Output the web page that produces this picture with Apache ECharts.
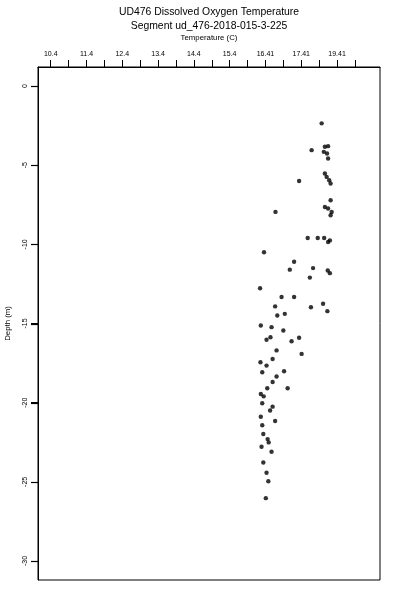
<!DOCTYPE html>
<html>
<head>
<meta charset="utf-8">
<script src="https://cdn.jsdelivr.net/npm/echarts@6/dist/echarts.min.js"></script>
<style>html,body{margin:0;padding:0;background:#fff}#c{width:400px;height:600px}</style>
</head>
<body>
<div id="c"></div>
<script>
var titleLine1 = "UD476 Dissolved Oxygen Temperature";
var titleLine2 = "Segment ud_476-2018-015-3-225";
var xName = "Temperature (C)";
var yName = "Depth (m)";

var temperature = [17.97,17.69,18.06,18.15,18.03,18.12,18.15,17.34,18.06,18.11,18.18,18.22,16.68,18.22,18.06,18.15,18.25,18.22,17.58,17.86,18.04,18.20,18.15,16.36,17.20,17.08,17.73,18.14,18.20,17.64,16.25,16.85,17.20,16.67,17.67,18.01,18.13,16.94,16.73,16.27,16.57,16.90,16.54,16.43,17.13,17.34,16.71,17.41,16.60,16.26,16.43,16.31,16.92,16.71,16.60,16.45,17.02,16.27,16.35,16.31,16.60,16.53,16.27,16.67,16.31,16.34,16.46,16.49,16.29,16.57,16.34,16.43,16.48,16.41];
var depth = [-2.36,-4.05,-3.84,-3.80,-4.16,-4.26,-4.58,-6.0,-5.53,-5.74,-5.95,-6.16,-7.95,-7.22,-7.64,-7.74,-7.96,-8.16,-9.6,-9.6,-9.6,-9.75,-9.85,-10.5,-11.1,-11.6,-11.5,-11.65,-11.82,-12.1,-12.77,-13.33,-13.33,-13.92,-13.97,-13.75,-14.22,-14.39,-14.49,-15.13,-15.23,-15.44,-15.87,-16.03,-16.12,-15.9,-16.7,-16.92,-17.24,-17.45,-17.66,-18.08,-18.02,-18.35,-18.69,-19.09,-19.09,-19.45,-19.6,-20.04,-20.25,-20.49,-20.89,-21.16,-21.43,-21.98,-22.3,-22.51,-22.78,-23.1,-23.78,-24.43,-24.96,-26.03];

var xTickValues = [10.4,10.9,11.4,11.9,12.4,12.9,13.4,13.9,14.4,14.9,15.4,15.9,16.4,16.9,17.4,17.9,18.4,18.9];
var xLabelValues = [10.4,11.4,12.4,13.4,14.4,15.4,16.4,17.4,18.4];
var xLabelTexts = ["10.4","11.4","12.4","13.4","14.4","15.4","16.41","17.41","19.41"];
var yTickValues = [-30,-25,-20,-15,-10,-5,0];
var yLabelTexts = ["-30","-25","-20","-15","-10","-5","0"];

var X_MIN = 10.045, X_MAX = 19.6, Y_MIN = -31.2, Y_MAX = 1.2;
var points = temperature.map(function (t, i) { return [t, depth[i]]; });
var FONT = "'Liberation Sans', Arial, sans-serif";

var chart = echarts.init(document.getElementById('c'), null, {renderer: 'canvas'});
chart.setOption({
  animation: false,
  backgroundColor: '#ffffff',
  graphic: [
    {type: 'text', x: 209, y: 12, style: {text: titleLine1, font: '10.4px ' + FONT, fill: '#000', textAlign: 'center', textVerticalAlign: 'middle'}},
    {type: 'text', x: 209, y: 26, style: {text: titleLine2, font: '10.4px ' + FONT, fill: '#000', textAlign: 'center', textVerticalAlign: 'middle'}}
  ],
  grid: {left: 38, right: 20, top: 67, bottom: 20, containLabel: false, outerBoundsMode: 'none',
    show: true, borderColor: '#000', borderWidth: 1, backgroundColor: 'transparent'},
  xAxis: {
    type: 'value', position: 'top', min: X_MIN, max: X_MAX,
    name: xName, nameLocation: 'middle', nameGap: 25, nameMoveOverlap: false,
    nameTextStyle: {fontFamily: FONT, fontSize: 7.8, color: '#000'},
    axisLine: {show: true, onZero: false, lineStyle: {color: '#000', width: 1}},
    axisTick: {show: true, inside: false, length: 7, customValues: xTickValues, lineStyle: {color: '#000'}},
    axisLabel: {show: true, margin: 9, customValues: xLabelValues, fontFamily: FONT, fontSize: 7, color: '#000',
      formatter: function (v) { var i = xLabelValues.findIndex(function (a) { return Math.abs(a - v) < 1e-6; }); return i >= 0 ? xLabelTexts[i] : ''; }},
    splitLine: {show: false}
  },
  yAxis: {
    type: 'value', position: 'left', min: Y_MIN, max: Y_MAX,
    name: yName, nameLocation: 'middle', nameGap: 26, nameRotate: 90, nameMoveOverlap: false,
    nameTextStyle: {fontFamily: FONT, fontSize: 7.8, color: '#000'},
    axisLine: {show: true, onZero: false, lineStyle: {color: '#000', width: 1}},
    axisTick: {show: true, inside: false, length: 7, interval: 0, customValues: yTickValues, lineStyle: {color: '#000', width: 1}},
    axisLabel: {show: true, margin: 9, rotate: 90, customValues: yTickValues, fontFamily: FONT, fontSize: 7, color: '#000',
      formatter: function (v) { var i = yTickValues.findIndex(function (a) { return Math.abs(a - v) < 1e-6; }); return i >= 0 ? yLabelTexts[i] : ''; }},
    splitLine: {show: false}
  },
  series: [{
    type: 'scatter', data: points, symbol: 'circle', symbolSize: 4.4,
    itemStyle: {color: '#000'}
  }, {
    type: 'custom', clip: false, silent: true, z: 50,
    data: yTickValues.map(function (v) { return [X_MIN, v]; }),
    encode: {x: 0, y: 1},
    renderItem: function (params, api) {
      var p = api.coord([api.value(0), api.value(1)]);
      var y = Math.round(p[1]) + 0.5;
      var x = Math.round(p[0]);
      return {type: 'line', shape: {x1: x - 7, y1: y, x2: x, y2: y}, style: {stroke: '#000', lineWidth: 1.2}};
    }
  }]
});
</script>
</body>
</html>
